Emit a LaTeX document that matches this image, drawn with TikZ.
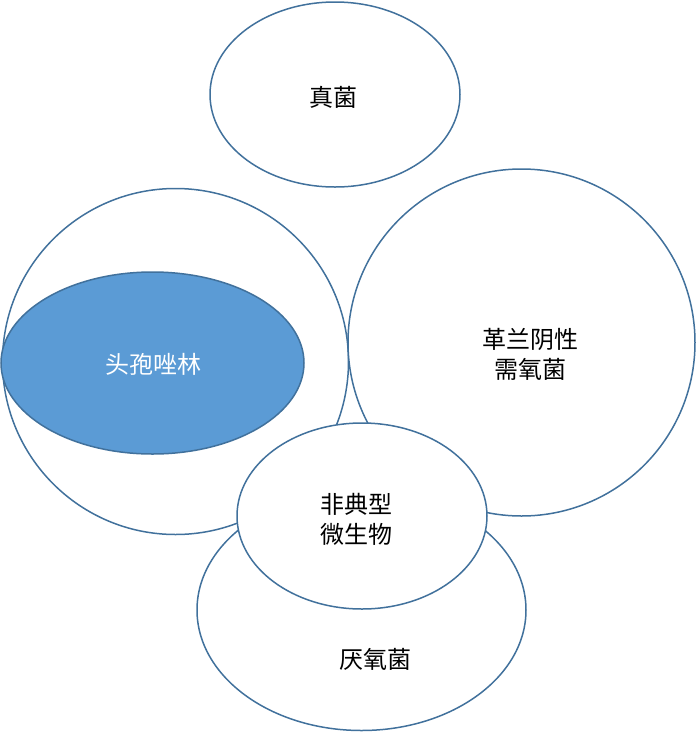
\documentclass[tikz,border=0pt]{standalone}
\usepackage{fontspec}
\setmainfont{Noto Sans CJK SC}
\definecolor{edge}{HTML}{41719C}
\definecolor{fillb}{HTML}{5B9BD5}
\tikzset{shp/.style={draw=edge,line width=1.5pt,fill=white},
lbl/.style={font=\fontsize{24}{30}\selectfont,align=center}}
\begin{document}
\begin{tikzpicture}[x=1pt,y=-1pt]
\useasboundingbox (0,0) rectangle (696,732);
\path[shp] (361.5,610) ellipse [x radius=164.5,y radius=120.5];
\path[shp] (175.5,361.5) circle [radius=173];
\path[shp,fill=fillb] (152.5,363) ellipse [x radius=151.5,y radius=91];
\path[shp] (521.5,342.5) circle [radius=173.5];
\path[shp] (335,94.5) ellipse [x radius=125,y radius=92.5];
\path[shp] (362,516) ellipse [x radius=125,y radius=93];
\node[lbl] (zj) at (333,97) {真菌};
\node[lbl,text=white] (tb) at (153,364) {头孢唑林};
\node[lbl] (gl) at (530,354) {革兰阴性\\需氧菌};
\node[lbl] (fd) at (356,519) {非典型\\微生物};
\node[lbl] (yy) at (375,659) {厌氧菌};
\end{tikzpicture}
\end{document}
